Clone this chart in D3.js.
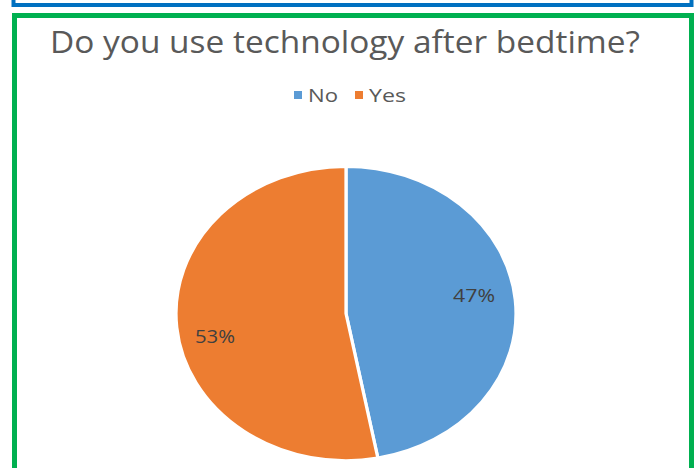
<!DOCTYPE html>
<html><head><meta charset="utf-8">
<script src="https://cdn.jsdelivr.net/npm/d3@7"></script>
<style>html,body{margin:0;padding:0;background:#fff;overflow:hidden}</style>
</head><body>
<script>
const title = "Do you use technology after bedtime?";
const categories = ["No", "Yes"];
const values = [47, 53];
const labels = ["47%", "53%"];
const colors = ["#5B9BD5", "#ED7D31"];

const W = 699, H = 468;
const svg = d3.select("body").append("svg").attr("width", W).attr("height", H)
  .style("font-family", "'Open Sans', sans-serif");

// frames
svg.append("rect").attr("x", 13.5).attr("y", -40).attr("width", 678).attr("height", 45)
  .attr("fill", "none").attr("stroke", "#0070C0").attr("stroke-width", 4);
svg.append("rect").attr("x", 14.5).attr("y", 15.5).attr("width", 677).attr("height", 480)
  .attr("fill", "none").attr("stroke", "#00B050").attr("stroke-width", 5);

// title
svg.append("text").attr("x", 50).attr("y", 53).text(title)
  .attr("font-size", 31).attr("fill", "#595959")
  .attr("textLength", 590).attr("lengthAdjust", "spacingAndGlyphs");

// legend
const leg = [{x: 294, tx: 308, tw: 30}, {x: 355, tx: 369, tw: 37}];
categories.forEach((c, i) => {
  svg.append("rect").attr("x", leg[i].x).attr("y", 91).attr("width", 8).attr("height", 8).attr("fill", colors[i]);
  svg.append("text").attr("x", leg[i].tx).attr("y", 102).text(c)
    .attr("font-size", 17.5).attr("fill", "#595959")
    .attr("textLength", leg[i].tw).attr("lengthAdjust", "spacingAndGlyphs");
});

// pie (elliptical)
const cx = 346, cy = 313.5, rx = 170, ry = 147;
const pie = d3.pie().sort(null).value(d => d)(values);
const arc = d3.arc().innerRadius(0).outerRadius(ry);
const g = svg.append("g").attr("transform", `translate(${cx},${cy}) scale(${rx/ry},1)`);
g.selectAll("path").data(pie).join("path")
  .attr("d", arc).attr("fill", (d, i) => colors[i])
  .attr("stroke", "#fff").attr("stroke-width", 2.8).attr("stroke-linejoin", "round");

// data labels
const lpos = [{x: 474, y: 302, w: 42}, {x: 215, y: 343, w: 40}];
labels.forEach((t, i) => {
  svg.append("text").attr("x", lpos[i].x).attr("y", lpos[i].y).text(t)
    .attr("text-anchor", "middle").attr("font-size", 19).attr("fill", "#404040")
    .attr("textLength", lpos[i].w).attr("lengthAdjust", "spacingAndGlyphs");
});
</script>
</body></html>
